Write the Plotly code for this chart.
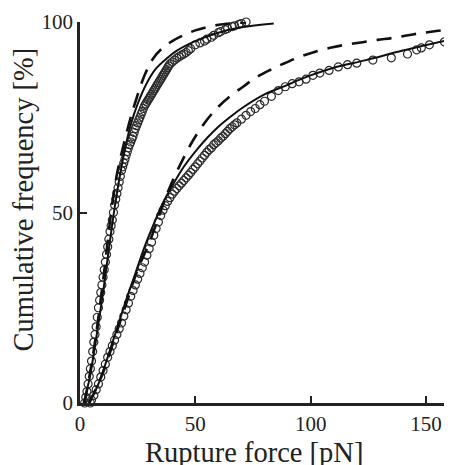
import plotly.graph_objects as go

# Series A (fast, left curve) - measured cumulative points
a_x = [2, 2.5, 3, 3.5, 4, 4.5, 5, 5.5, 6, 6.5, 7, 7.5, 8, 8.5, 9, 9.5, 10, 10.5, 11, 11.5,
       12, 12.5, 13, 13.5, 14, 14.5, 15, 15.5, 16, 16.5, 17, 17.5, 18, 18.5, 19, 19.5,
       20, 20.5, 21, 21.5, 22, 22.5, 23, 23.5, 24, 24.5, 25, 25.5, 26, 26.5, 27, 27.5,
       28, 28.5, 29, 29.5, 30, 30.5, 31, 31.5, 32, 32.5, 33, 33.5, 34, 34.5, 35, 35.5,
       36, 36.5, 37, 37.5, 38, 38.5, 39, 40, 41, 42, 43, 44, 45, 46, 47, 48, 50, 52, 54,
       55, 57, 58, 60, 61, 63, 64, 66, 67, 69, 70, 72]
a_y = [0, 1.5, 3, 5, 7, 9, 11, 13.5, 16, 18, 20, 22.5, 25, 27, 29, 31, 33, 35, 37, 39,
       41, 43, 45, 46.5, 48, 50, 52, 53.5, 55, 56.5, 58, 59.5, 61, 62, 63, 64,
       65, 66, 67, 67.8, 68.5, 69.3, 70, 71, 72, 72.8, 73.5, 74.3, 75, 75.8, 76.5, 77.3,
       78, 78.5, 79, 79.5, 80, 80.5, 81, 81.5, 82, 82.5, 83, 83.5, 84, 84.5, 85, 85.5,
       86, 86.5, 87, 87.5, 88, 88.5, 89, 89.5, 90, 90.5, 90.9, 91.3, 91.6, 92, 92.5, 93, 94, 94.5, 95,
       95.5, 96, 96.5, 97.2, 97.5, 98, 98.3, 98.8, 99, 99.4, 99.6, 100]

# Series B (slow, right curve) - measured cumulative points
b_x = [4.5, 5, 6, 7, 8, 9, 10, 11, 12, 13, 14, 15, 16, 17, 18, 19, 20, 21, 22, 23, 24,
       25, 26, 27, 28, 29, 30, 31, 32, 33, 34, 35, 36, 37, 38, 39, 40, 41, 42, 43, 44,
       45, 46, 47, 48, 49, 50, 51, 52, 53, 54, 55, 56, 57, 58, 59, 60, 61, 62, 63, 64,
       65, 66, 67, 68, 70, 72, 74, 76, 78, 80, 83, 86, 89, 92, 95, 98, 101, 104, 108,
       112, 116, 120, 127, 135, 142, 146, 148, 151.5, 158]
b_y = [0, 0.8, 2, 3.5, 5, 6.8, 8.5, 10.2, 12, 13.5, 15, 16.5, 18, 19.5, 21, 22.8, 24.5,
       26.2, 28, 29.5, 31, 32.5, 34, 35.5, 37, 38.8, 40.5, 42.2, 44, 45.8, 47.5, 49.2,
       50.6, 51.8, 52.9, 53.9, 54.8, 55.6, 56.3, 57, 57.7, 58.4, 59.1, 59.8, 60.5, 61.3, 62,
       62.8, 63.5, 64.3, 65, 65.8, 66.5, 67, 67.8, 68.3, 68.8, 69.5, 70, 70.7, 71.3, 72,
       72.5, 73, 73.5, 74.5, 75.5, 76.5, 77.3, 78.3, 79.2, 80.5, 82, 83, 83.8, 84.3, 85,
       86, 86.6, 87.3, 88.2, 88.8, 89.2, 90, 90.6, 91.6, 92.7, 93.2, 94, 94.8]

# Fit curves (solid)
fit_a_x = [1.5, 4, 6, 8, 10, 12, 14, 16, 18, 20, 22, 25, 29, 33, 37.7, 42, 50, 60, 70, 84]
fit_a_y = [0, 6, 13, 21, 29, 38, 47, 55, 62, 68, 73, 78.5, 84, 87.8, 90.5, 92.5, 95, 97.2, 98.6, 99.6]
fit_b_x = [4, 8, 12, 16, 20, 24, 28, 32, 36, 40, 45, 50, 55, 60, 65, 70, 80, 90, 95, 100, 110, 124, 140, 160]
fit_b_y = [0, 5, 12, 19.5, 27, 34, 41, 47, 52.5, 57, 62, 66, 69.5, 72.5, 75, 77.3, 81, 83.5, 84.8, 86, 88, 90, 92.5, 95.3]

# Model curves (dashed)
mod_a_x = [2, 6, 10, 13.5, 16, 19, 22, 24, 28, 31.8, 36, 40, 44.8, 50, 56, 62, 72]
mod_a_y = [0, 14, 32, 50, 60, 68, 75, 79, 86, 90.5, 93.3, 95, 96.5, 97.8, 98.8, 99.4, 99.9]
mod_b_x = [4, 10, 15, 20, 25, 30, 34.8, 38.5, 42.6, 48.6, 54, 59.4, 65, 70.7, 76, 82.4, 88, 95,
           102, 109.6, 116, 122.6, 129, 135.5, 141, 147, 153, 160]
mod_b_y = [0, 8, 17, 26, 35, 42, 50, 56, 61.5, 68.5, 73.5, 77.4, 80.5, 83, 85.3, 87.4, 89, 90.8,
           92.2, 93.4, 94.1, 94.7, 95.3, 95.8, 96.4, 97, 97.5, 98]

x_ticks = [0, 50, 100, 150]
y_ticks = [0, 50, 100]
x_title = "Rupture force [pN]"
y_title = "Cumulative frequency [%]"

fig = go.Figure()
marker = dict(symbol="circle-open", size=8, color="#2a2a2a", line=dict(width=1.2, color="#2a2a2a"))
for xs, ys in [(a_x, a_y), (b_x, b_y)]:
    fig.add_trace(go.Scatter(x=xs, y=ys, mode="markers", marker=marker, cliponaxis=False))
for xs, ys in [(fit_a_x, fit_a_y), (fit_b_x, fit_b_y)]:
    fig.add_trace(go.Scatter(x=xs, y=ys, mode="lines", line=dict(color="#111", width=2, shape="spline"),
                             cliponaxis=False))
for xs, ys in [(mod_a_x, mod_a_y), (mod_b_x, mod_b_y)]:
    fig.add_trace(go.Scatter(x=xs, y=ys, mode="lines",
                             line=dict(color="#111", width=2.6, shape="spline", dash="15px,10px"),
                             cliponaxis=False))

font = "Liberation Serif, Times New Roman, serif"
axis_common = dict(ticks="inside", ticklen=7, tickwidth=2, tickcolor="#222", showline=True,
                   linecolor="#222", linewidth=2.5, showgrid=False, zeroline=False,
                   tickfont=dict(size=21), automargin=False)
fig.update_layout(
    width=444, height=457,
    margin=dict(l=72, r=3, t=14, b=62),
    paper_bgcolor="white", plot_bgcolor="white",
    showlegend=False,
    font=dict(family=font, color="#222", size=21),
    xaxis=dict(range=[0, 160], tickvals=x_ticks, **axis_common),
    yaxis=dict(range=[0, 100], tickvals=y_ticks, **axis_common),
    annotations=[
        dict(text=x_title, xref="paper", yref="paper", x=0.471, y=0, xanchor="center",
             yanchor="middle", yshift=-49, showarrow=False, font=dict(size=28.5)),
        dict(text=y_title, xref="paper", yref="paper", x=0, y=0.534, xanchor="center",
             yanchor="middle", xshift=-56, textangle=-90, showarrow=False, font=dict(size=28.5)),
    ],
)
fig.write_html("out.html")
